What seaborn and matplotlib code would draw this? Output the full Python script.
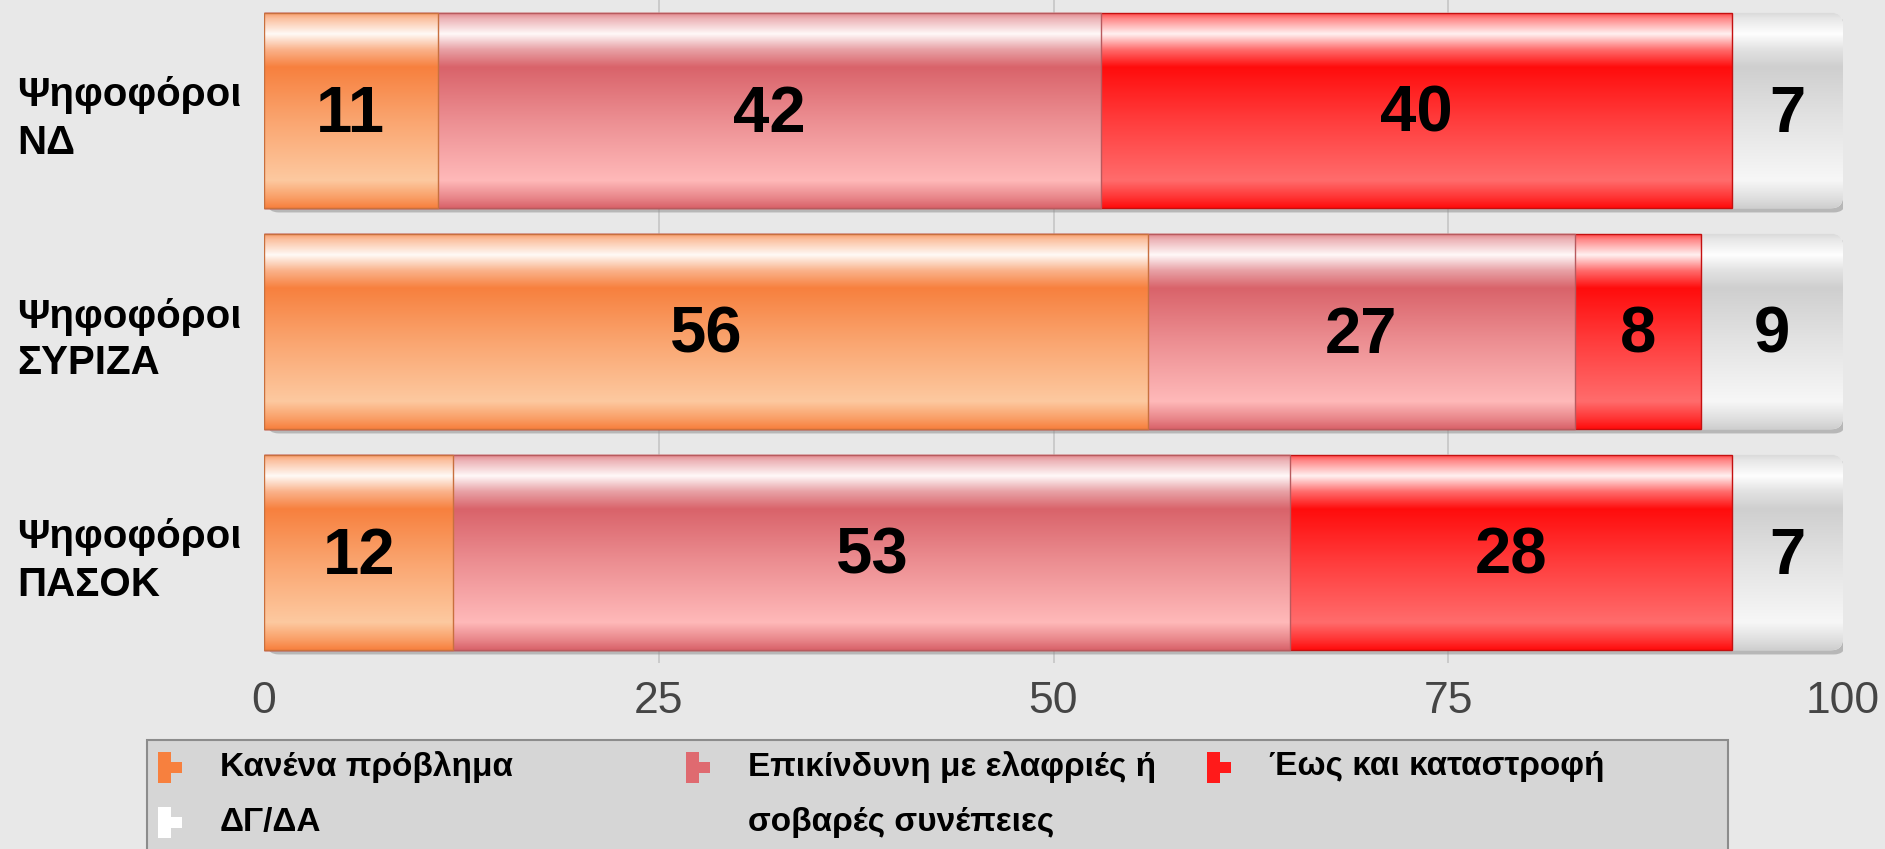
import numpy as np
import pandas as pd
import matplotlib
matplotlib.use("Agg")
import matplotlib.pyplot as plt
import seaborn as sns
from matplotlib.colors import to_rgb
from matplotlib.patches import Rectangle, FancyBboxPatch
from matplotlib import patheffects as pe

# data (percent)
groups = ["Ψηφοφόροι\nΝΔ", "Ψηφοφόροι\nΣΥΡΙΖΑ", "Ψηφοφόροι\nΠΑΣΟΚ"]
answers = ["Κανένα πρόβλημα", "Επικίνδυνη με ελαφριές ή\nσοβαρές συνέπειες",
           "Έως και καταστροφή", "ΔΓ/ΔΑ"]
no_problem = [11, 56, 12]
dangerous = [42, 27, 53]
catastrophe = [40, 8, 28]
dk_na = [7, 9, 7]
ticks = [0, 25, 50, 75, 100]

# dark / light tone of each series' glossy fill
tones = [("#f7803e", "#fdc9a0"), ("#d9636a", "#ffb9b9"),
         ("#ff0c0c", "#ff6c6c"), ("#cfcfcf", "#f7f7f7")]
edges = ["#c8703e", "#b85a5e", "#c41010", "#b0b0b0"]

df = pd.DataFrame({"group": groups, answers[0]: no_problem, answers[1]: dangerous,
                   answers[2]: catastrophe, answers[3]: dk_na}).set_index("group")
cum = df.cumsum(axis=1)
start = cum - df

BG = "#e8e8e8"
sns.set_style("white")
plt.rcParams["font.family"] = ["Liberation Sans", "DejaVu Sans"]

W, H = 1885, 849
fig = plt.figure(figsize=(W / 100, H / 100), dpi=100, facecolor=BG)
ax = fig.add_axes([264 / W, 1 - 663 / H, (1843 - 264) / W, 663 / H])
ax.set_facecolor(BG)


def gloss(dark, light, n=256):
    d = np.array(to_rgb(dark))
    l = np.array(to_rgb(light))
    w = np.ones(3)
    pos = [0.0, 0.03, 0.11, 0.19, 0.28, 0.55, 0.86, 0.95, 1.0]
    cols = [0.8 * d + 0.2 * w, 0.5 * d + 0.5 * w, 0.1 * l + 0.9 * w, 0.6 * d + 0.4 * w,
            d, 0.5 * d + 0.5 * l, l, 0.6 * d + 0.4 * l, d]
    t = np.linspace(0, 1, n)
    arr = np.stack([np.interp(t, pos, [c[i] for c in cols]) for i in range(3)], axis=-1)
    return arr[:, None, :]


bw = 0.885
# data units per pixel, for the rounded right end of each bar
ux, uy = 100 / (1843 - 264), 3 / 663
# draw cumulative bars from the longest to the shortest so they stack visually
for k in range(len(answers) - 1, -1, -1):
    before = len(ax.patches)
    sns.barplot(x=cum[answers[k]].values, y=groups, orient="h", width=bw,
                color=tones[k][0], ax=ax)
    img = gloss(*tones[k])
    for p in ax.patches[before:]:
        x0, y0 = p.get_x(), p.get_y()
        x1, y1 = x0 + p.get_width(), y0 + p.get_height()
        clip = p
        if k == 3:
            # whole bar: rounded right end with a soft drop shadow
            p.set_visible(False)
            clip = FancyBboxPatch((x0, y0), x1 - x0, y1 - y0,
                                  boxstyle="round,pad=0,rounding_size=%f" % (12 * ux),
                                  mutation_aspect=uy / ux, facecolor=tones[k][1],
                                  edgecolor="none", zorder=1)
            clip.set_path_effects([pe.SimplePatchShadow(offset=(2, -3),
                                                        shadow_rgbFace="#8f8f8f", alpha=0.55),
                                   pe.Normal()])
            ax.add_patch(clip)
        else:
            p.set_zorder(2 + 2 * (3 - k))
            p.set_facecolor("none")
            p.set_edgecolor(edges[k])
            p.set_linewidth(1.0)
        im = ax.imshow(img, extent=(x0, x1, max(y0, y1), min(y0, y1)),
                       aspect="auto", interpolation="bilinear",
                       zorder=1.5 + 2 * (3 - k))
        im.set_clip_path(clip)

ax.set_xlim(0, 100)
ax.set_ylim(2.5, -0.5)

# value labels centred in each segment
for k, a in enumerate(answers):
    for i, g in enumerate(groups):
        ax.text(start.loc[g, a] + df.loc[g, a] / 2, i + 0.02, str(df.loc[g, a]),
                ha="center", va="center", fontsize=47, fontweight="bold",
                color="black", zorder=20)

ax.set_xticks(ticks)
ax.set_xticklabels([str(t) for t in ticks])
ax.tick_params(axis="x", length=0, pad=13, labelsize=32, labelcolor="#454545")
ax.tick_params(axis="y", length=0, pad=178, labelsize=29)
for lab in ax.get_yticklabels():
    lab.set_ha("left")
    lab.set_fontweight("bold")
    lab.set_color("black")
    lab.set_linespacing(1.3)
    lab.set_y(lab.get_position()[1])
ax.set_xlabel("")
ax.set_ylabel("")
ax.xaxis.grid(True, color="#c6c6c6", lw=1.2, zorder=0)
gl = ax.xaxis.get_gridlines()
gl[0].set_visible(False)
gl[-1].set_visible(False)
for s in ax.spines.values():
    s.set_visible(False)


# legend drawn as a boxed panel below the axes
def fx(x):
    return x / W


def fy(y):
    return 1 - y / H


fig.add_artist(Rectangle((fx(147), fy(870)), fx(1728 - 147), (870 - 740) / H,
                         transform=fig.transFigure, facecolor="#d6d6d6",
                         edgecolor="#8c8c8c", lw=1.5))

legend_pos = [(158, 767), (686, 767), (1207, 767), (158, 822)]
marker_cols = ["#f7803e", "#df6a70", "#ff1a1a", "#ffffff"]
for (mx, my), lab, mc in zip(legend_pos, answers, marker_cols):
    # small bar-chart style icon
    for dy, w, h in [(-15, 13, 10), (-5, 24, 11), (6, 13, 10)]:
        fig.add_artist(Rectangle((fx(mx), fy(my + dy + h)), w / W, h / H,
                                 transform=fig.transFigure, facecolor=mc,
                                 edgecolor="none"))
    lines = lab.split("\n")
    for j, line in enumerate(lines):
        fig.text(fx(mx + 62), fy(my + 55 * j), line, ha="left", va="center",
                 fontsize=24, fontweight="bold", color="black")

fig.savefig("out.png", dpi=100, facecolor=BG)
